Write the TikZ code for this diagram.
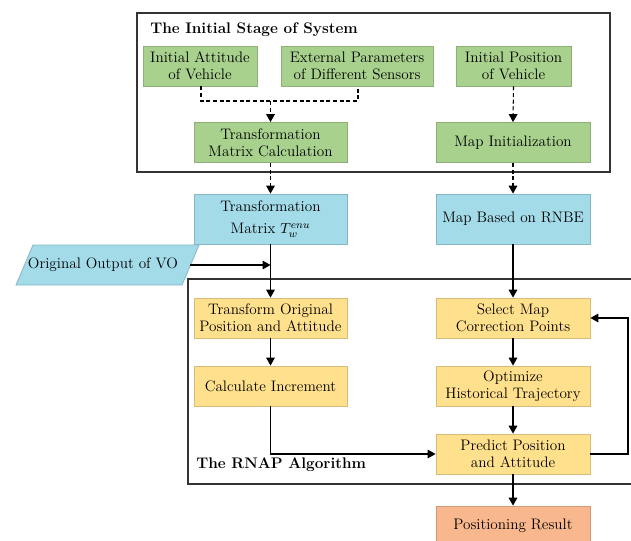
\documentclass[tikz,border=0pt]{standalone}
\usetikzlibrary{arrows.meta}
\definecolor{gfill}{HTML}{A9D18E}
\definecolor{gline}{HTML}{8FAF78}
\definecolor{bfill}{HTML}{A3DBE8}
\definecolor{bline}{HTML}{86B7C4}
\definecolor{yfill}{HTML}{FFE08C}
\definecolor{yline}{HTML}{D6BC78}
\definecolor{ofill}{HTML}{F8B78C}
\definecolor{oline}{HTML}{D29A78}
\begin{document}
\begin{tikzpicture}[x=0.75pt,y=-0.75pt,
  every node/.style={font=\fontsize{11.4}{13}\selectfont},
  box/.style={rectangle,align=center,inner sep=1pt,minimum height=30pt,line width=0.6pt},
  gbox/.style={box,fill=gfill,draw=gline},
  bbox/.style={box,fill=bfill,draw=bline,minimum height=37.5pt},
  ybox/.style={box,fill=yfill,draw=yline},
  obox/.style={box,fill=ofill,draw=oline},
  frame/.style={draw=black!80,line width=1pt},
  arr/.style={line width=0.8pt,-{Triangle[length=6pt,width=6.5pt]}},
  dline/.style={line width=0.8pt,dashed,dash pattern=on 3pt off 2pt},
  ttl/.style={font=\fontsize{11.5}{14}\selectfont\bfseries,anchor=west,inner sep=0pt}
]
\useasboundingbox (0,0) rectangle (631,540);
\clip (0,0) rectangle (631,540);
% frames
\draw[frame] (137,13) rectangle (610,172);
\node[ttl] (t1) at (150,30) {The Initial Stage of System};
\draw[frame] (188,279) rectangle (660,484);
\node[ttl] (t2) at (196,465) {The RNAP Algorithm};
% green
\node[gbox,minimum width=85.5pt] (ia) at (200,66) {Initial Attitude\\of Vehicle};
\node[gbox,minimum width=114pt] (ep) at (357,66) {External Parameters\\of Different Sensors};
\node[gbox,minimum width=86.25pt] (ip) at (513.5,66) {Initial Position\\of Vehicle};
\node[gbox,minimum width=114.75pt] (tmc) at (270.5,142.5) {Transformation\\Matrix Calculation};
\node[gbox,minimum width=115.5pt] (mi) at (513,142.5) {Map Initialization};
% blue
\node[bbox,minimum width=114.75pt] (tm) at (270.5,219) {Transformation\\[4pt]Matrix $T_w^{enu}$};
\node[bbox,minimum width=115.5pt] (mb) at (513,219) {Map Based on RNBE};
\fill[bfill] (16,285) -- (33,245) -- (199,245) -- (182,285) -- cycle;
\draw[bline,line width=0.6pt] (16,285) -- (33,245) -- (199,245) -- (182,285) -- cycle;
\node (vo) at (103,265) {Original Output of VO};
\coordinate (voe) at (190,265);
% yellow
\node[ybox,minimum width=114.75pt] (to) at (270.5,318) {Transform Original\\Position and Attitude};
\node[ybox,minimum width=115.5pt] (sm) at (513,318) {Select Map\\Correction Points};
\node[ybox,minimum width=114.75pt] (ci) at (270.5,386) {Calculate Increment};
\node[ybox,minimum width=115.5pt] (oh) at (513,386) {Optimize\\Historical Trajectory};
\node[ybox,minimum width=115.5pt] (pp) at (513,454) {Predict Position\\and Attitude};
\node[obox,minimum width=115.5pt] (pr) at (513,526) {Positioning Result};
% dashed connectors
\coordinate (j1) at (201,101);
\coordinate (j2) at (358,101);
\draw[dline] (ia.south -| j1) -- (j1) -- (j2) -- (ep.south -| j2);
\draw[dline,arr] (tmc.north |- j1) -- (tmc.north);
\draw[dline,arr] (ip.south) -- (mi.north);
\draw[dline,arr] (tmc.south) -- (tm.north);
\draw[dline,arr] (mi.south) -- (mb.north);
% solid connectors
\draw[arr] (tm.south) -- (to.north);
\draw[arr] (voe) -- (voe -| tm.south);
\draw[arr] (mb.south) -- (sm.north);
\draw[arr] (to.south) -- (ci.north);
\draw[arr] (sm.south) -- (oh.north);
\draw[arr] (oh.south) -- (pp.north);
\draw[arr] (ci.south) |- (pp.west);
\coordinate (fb) at (628,454);
\draw[arr] (pp.east) -- (fb) |- (sm.east);
\draw[arr] (pp.south) -- (pr.north);
\end{tikzpicture}
\end{document}
